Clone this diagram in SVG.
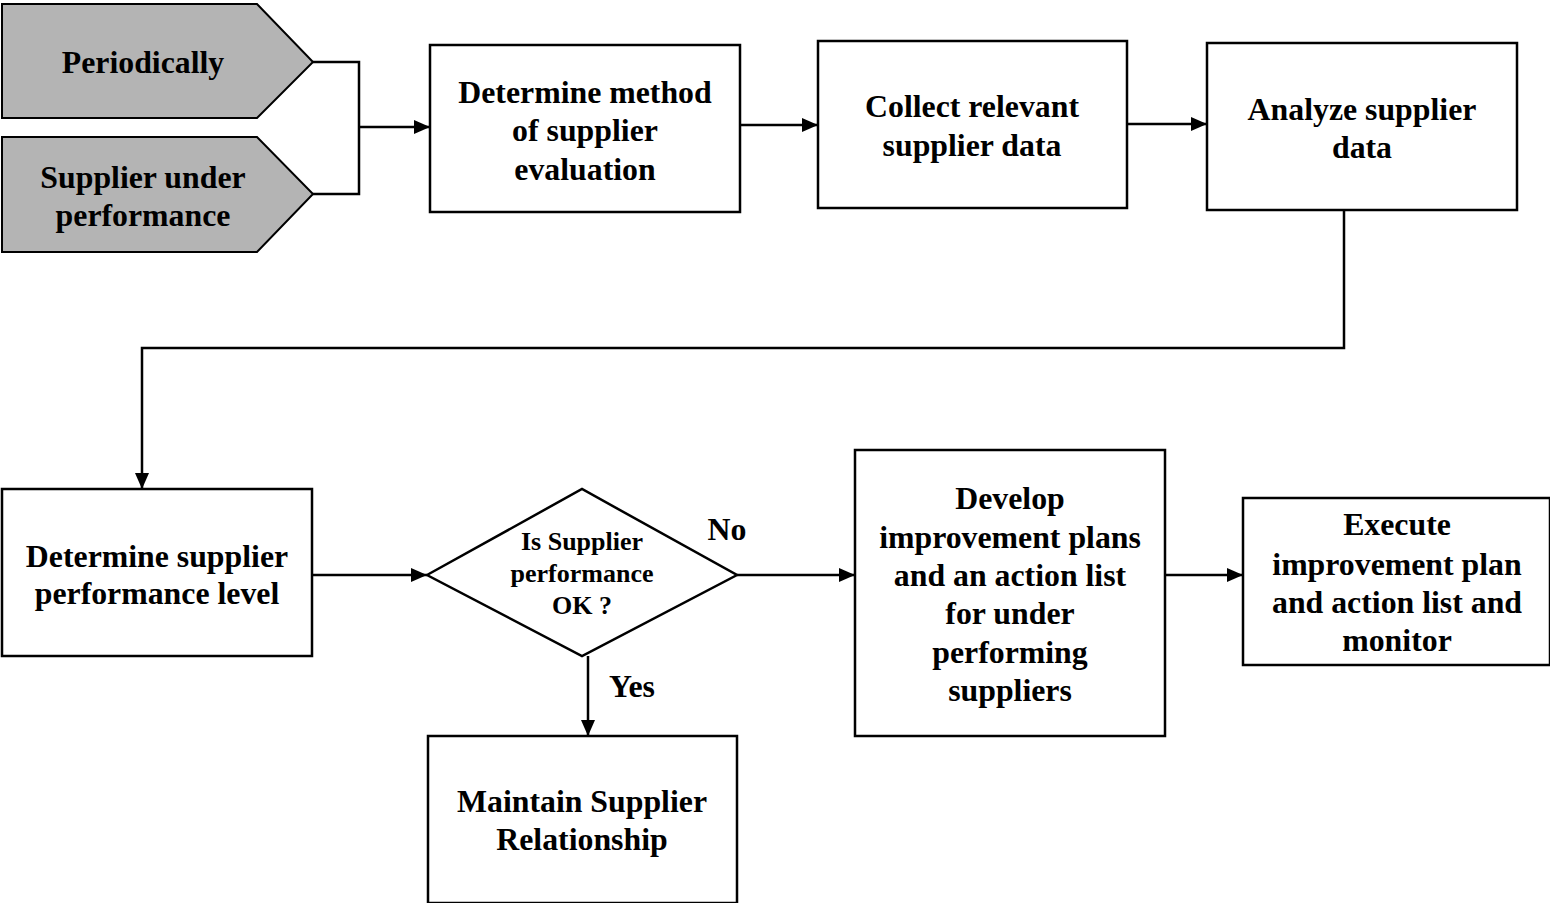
<svg xmlns="http://www.w3.org/2000/svg" width="1550" height="903" viewBox="0 0 1550 903">
<style>
.box{fill:#fff;stroke:#000;stroke-width:2.5}
.grey{fill:#b4b4b4;stroke:#000;stroke-width:2}
.t{font-family:"Liberation Serif","Times New Roman",serif;font-weight:bold;font-size:31.8px;text-anchor:middle;fill:#000}
.s{font-size:26px}
.c{fill:none;stroke:#000;stroke-width:2.5}
</style>
<defs>
<marker id="ah" viewBox="0 0 10 10" refX="10" refY="5" markerWidth="16" markerHeight="14" markerUnits="userSpaceOnUse" orient="auto" preserveAspectRatio="none">
<path d="M0,0 L10,5 L0,10 Z" fill="#000"/>
</marker>
</defs>
<rect width="1550" height="903" fill="#fff"/>
<g id="connectors">
<path class="c" d="M313,62 H359 V194 H313"/>
<path class="c" d="M359,127 H430" marker-end="url(#ah)"/>
<path class="c" d="M740,125 H818" marker-end="url(#ah)"/>
<path class="c" d="M1127,124 H1207" marker-end="url(#ah)"/>
<path class="c" d="M1344,210 V348 H142 V489" marker-end="url(#ah)"/>
<path class="c" d="M312,575 H427" marker-end="url(#ah)"/>
<path class="c" d="M737,575 H855" marker-end="url(#ah)"/>
<path class="c" d="M588,656 V736" marker-end="url(#ah)"/>
<path class="c" d="M1165,575 H1243" marker-end="url(#ah)"/>
</g>
<g id="periodically">
<polygon class="grey" points="2,4 257,4 313,62 257,118 2,118"/>
<text class="t" x="143" y="73">Periodically</text>
</g>
<g id="under-performance">
<polygon class="grey" points="2,137 257,137 313,194 257,252 2,252"/>
<text class="t" x="143" y="188">Supplier under</text>
<text class="t" x="143" y="226">performance</text>
</g>
<g id="determine-method">
<rect class="box" x="430" y="45" width="310" height="167"/>
<text class="t" x="585" y="103">Determine method</text>
<text class="t" x="585" y="141">of supplier</text>
<text class="t" x="585" y="180">evaluation</text>
</g>
<g id="collect">
<rect class="box" x="818" y="41" width="309" height="167"/>
<text class="t" x="972" y="117">Collect relevant</text>
<text class="t" x="972" y="156">supplier data</text>
</g>
<g id="analyze">
<rect class="box" x="1207" y="43" width="310" height="167"/>
<text class="t" x="1362" y="120">Analyze supplier</text>
<text class="t" x="1362" y="158">data</text>
</g>
<g id="determine-level">
<rect class="box" x="2" y="489" width="310" height="167"/>
<text class="t" x="157" y="567">Determine supplier</text>
<text class="t" x="157" y="604">performance level</text>
</g>
<g id="decision">
<polygon class="box" points="427,575 582,489 737,575 582,656"/>
<text class="t s" x="582" y="550">Is Supplier</text>
<text class="t s" x="582" y="582">performance</text>
<text class="t s" x="582" y="614">OK ?</text>
</g>
<g id="label-no"><text class="t" x="727" y="540">No</text></g>
<g id="label-yes"><text class="t" x="632" y="697">Yes</text></g>
<g id="maintain">
<rect class="box" x="428" y="736" width="309" height="167"/>
<text class="t" x="582" y="812">Maintain Supplier</text>
<text class="t" x="582" y="850">Relationship</text>
</g>
<g id="develop">
<rect class="box" x="855" y="450" width="310" height="286"/>
<text class="t" x="1010" y="509">Develop</text>
<text class="t" x="1010" y="548">improvement plans</text>
<text class="t" x="1010" y="586">and an action list</text>
<text class="t" x="1010" y="624">for under</text>
<text class="t" x="1010" y="663">performing</text>
<text class="t" x="1010" y="701">suppliers</text>
</g>
<g id="execute">
<rect class="box" x="1243" y="498" width="307" height="167"/>
<text class="t" x="1397" y="535">Execute</text>
<text class="t" x="1397" y="575">improvement plan</text>
<text class="t" x="1397" y="613">and action list and</text>
<text class="t" x="1397" y="651">monitor</text>
</g>
</svg>
